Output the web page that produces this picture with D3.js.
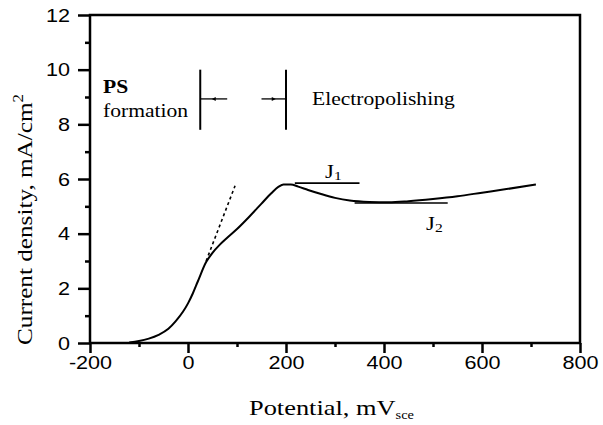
<!DOCTYPE html>
<html><head><meta charset="utf-8">
<script src="https://cdn.jsdelivr.net/npm/d3@7"></script>
<style>body{margin:0;background:#fff}svg{display:block}</style>
</head><body><svg id="c" width="603" height="425"></svg>
<script>
// ---- data ----
const potential = [-120,-100,-80,-60,-40,-25,-10,0,10,20,37,50,65,80,100,125,150,170,185,195,210,225,245,270,300,330,370,410,450,500,550,600,650,710];
const current   = [0.02,0.07,0.16,0.3,0.52,0.8,1.15,1.45,1.82,2.25,2.96,3.3,3.6,3.85,4.17,4.62,5.1,5.48,5.72,5.8,5.8,5.72,5.6,5.46,5.31,5.21,5.16,5.15,5.19,5.27,5.37,5.5,5.63,5.8];
const tangentX = [37, 96];
const tangentY = [3.0, 5.75];
const j1X = [218, 350], j1Y = 5.85;
const j2X = [340, 530], j2Y = 5.12;
const boundaryX = [25, 200];
const boundaryY = [7.8, 10.0];
const arrowY = 8.93;
const arrow1X = [25, 80];
const arrow2X = [150, 200];
const xMajorTicks = [-200,0,200,400,600,800];
const xMinorTicks = [-100,100,300,500,700];
const yMajorTicks = [0,2,4,6,8,10,12];
const yMinorTicks = [1,3,5,7,9,11];

// ---- drawing ----
const svg = d3.select('#c');
svg.append('rect').attr('width',603).attr('height',425).attr('fill','#fff');
const x = d3.scaleLinear().domain([-200,800]).range([90,580]);
const y = d3.scaleLinear().domain([0,12]).range([343,15]);
const SX = 1.2;
const serif = '"Liberation Serif","Times New Roman",serif';
const sans = '"Liberation Sans",Arial,Helvetica,sans-serif';

// axes
const gx = svg.append('g').attr('transform','translate(0,343)')
  .call(d3.axisBottom(x).tickValues(xMajorTicks).tickSize(10).tickPadding(8).tickFormat(d3.format('d')));
const gxm = svg.append('g').attr('transform','translate(0,343)')
  .call(d3.axisBottom(x).tickValues(xMinorTicks).tickSize(4).tickFormat(''));
const gy = svg.append('g').attr('transform','translate(90,0)')
  .call(d3.axisLeft(y).tickValues(yMajorTicks).tickSize(12).tickFormat(d3.format('d')));
const gym = svg.append('g').attr('transform','translate(90,0)')
  .call(d3.axisLeft(y).tickValues(yMinorTicks).tickSize(5).tickFormat(''));
[gx,gxm,gy,gym].forEach(g=>{
  g.select('.domain').remove();
  g.selectAll('line').attr('stroke','#000').attr('stroke-width',2.5);
});
gx.selectAll('text').attr('font-family',sans).attr('font-size',18).attr('fill','#000')
  .attr('y',20).attr('dy','0.35em').attr('transform',`scale(${SX},1)`)
  .text(d=>d<0?'-'+Math.abs(d):d);
gy.selectAll('text').attr('font-family',sans).attr('font-size',18).attr('fill','#000')
  .attr('x',-20/SX).attr('dy','0.35em').attr('transform',`scale(${SX},1)`);

// frame
svg.append('rect').attr('x',x(-200)).attr('y',y(12)).attr('width',x(800)-x(-200)).attr('height',y(0)-y(12))
  .attr('fill','none').attr('stroke','#000').attr('stroke-width',2.5);

// curve
const pts = potential.map((p,i)=>[p,current[i]]);
svg.append('path').datum(pts)
  .attr('d',d3.line().x(d=>x(d[0])).y(d=>y(d[1])).curve(d3.curveMonotoneX))
  .attr('fill','none').attr('stroke','#000').attr('stroke-width',2);

// tangent dashed
svg.append('line').attr('x1',x(tangentX[0])).attr('y1',y(tangentY[0])).attr('x2',x(tangentX[1])).attr('y2',y(tangentY[1]))
  .attr('stroke','#000').attr('stroke-width',1.6).attr('stroke-dasharray','3,3');

// J lines
svg.append('line').attr('x1',x(j1X[0])).attr('x2',x(j1X[1])).attr('y1',y(j1Y)).attr('y2',y(j1Y))
  .attr('stroke','#000').attr('stroke-width',1.6);
svg.append('line').attr('x1',x(j2X[0])).attr('x2',x(j2X[1])).attr('y1',y(j2Y)).attr('y2',y(j2Y))
  .attr('stroke','#000').attr('stroke-width',1.6);

// boundaries
boundaryX.forEach(b=>{
  svg.append('line').attr('x1',x(b)).attr('x2',x(b)).attr('y1',y(boundaryY[0])).attr('y2',y(boundaryY[1]))
    .attr('stroke','#000').attr('stroke-width',2);
});
[[arrow1X,-1],[arrow2X,1]].forEach(([a,dir])=>{
  svg.append('line').attr('x1',x(a[0])).attr('x2',x(a[1])).attr('y1',y(arrowY)).attr('y2',y(arrowY))
    .attr('stroke','#000').attr('stroke-width',1.3);
  const mx = (x(a[0])+x(a[1]))/2, yy = y(arrowY);
  svg.append('path').attr('d',`M${mx+dir*2},${yy} L${mx-dir*2},${yy-2} L${mx-dir*2},${yy+2} Z`).attr('fill','#000');
});

// text helper
function label(px,py,parts,opts){
  const g = svg.append('g').attr('transform',`translate(${px},${py}) ${opts.rotate?'rotate(-90)':''} scale(${SX},1)`);
  const t = g.append('text').attr('font-family',opts.family||serif).attr('font-size',opts.size)
    .attr('font-weight',opts.weight||'normal').attr('text-anchor',opts.anchor||'start').attr('fill','#000');
  parts.forEach(p=>{
    const ts = t.append('tspan').text(p.t);
    if(p.size) ts.attr('font-size',p.size);
    if(p.dy) ts.attr('dy',p.dy);
  });
  return t;
}
label(249,415,[{t:'Potential, mV'},{t:'sce',size:12,dy:4}],{size:22});
label(32,345,[{t:'Current density, mA/cm'},{t:'2',size:14,dy:-9}],{size:21,rotate:true});
label(103,93,[{t:'PS'}],{size:18,weight:'bold'});
label(103,117,[{t:'formation'}],{size:18});
label(312,105,[{t:'Electropolishing'}],{size:18});
label(325,178,[{t:'J'},{t:'1',size:13,dy:2}],{size:19});
label(426,230,[{t:'J'},{t:'2',size:13,dy:2}],{size:19});
</script></body></html>
